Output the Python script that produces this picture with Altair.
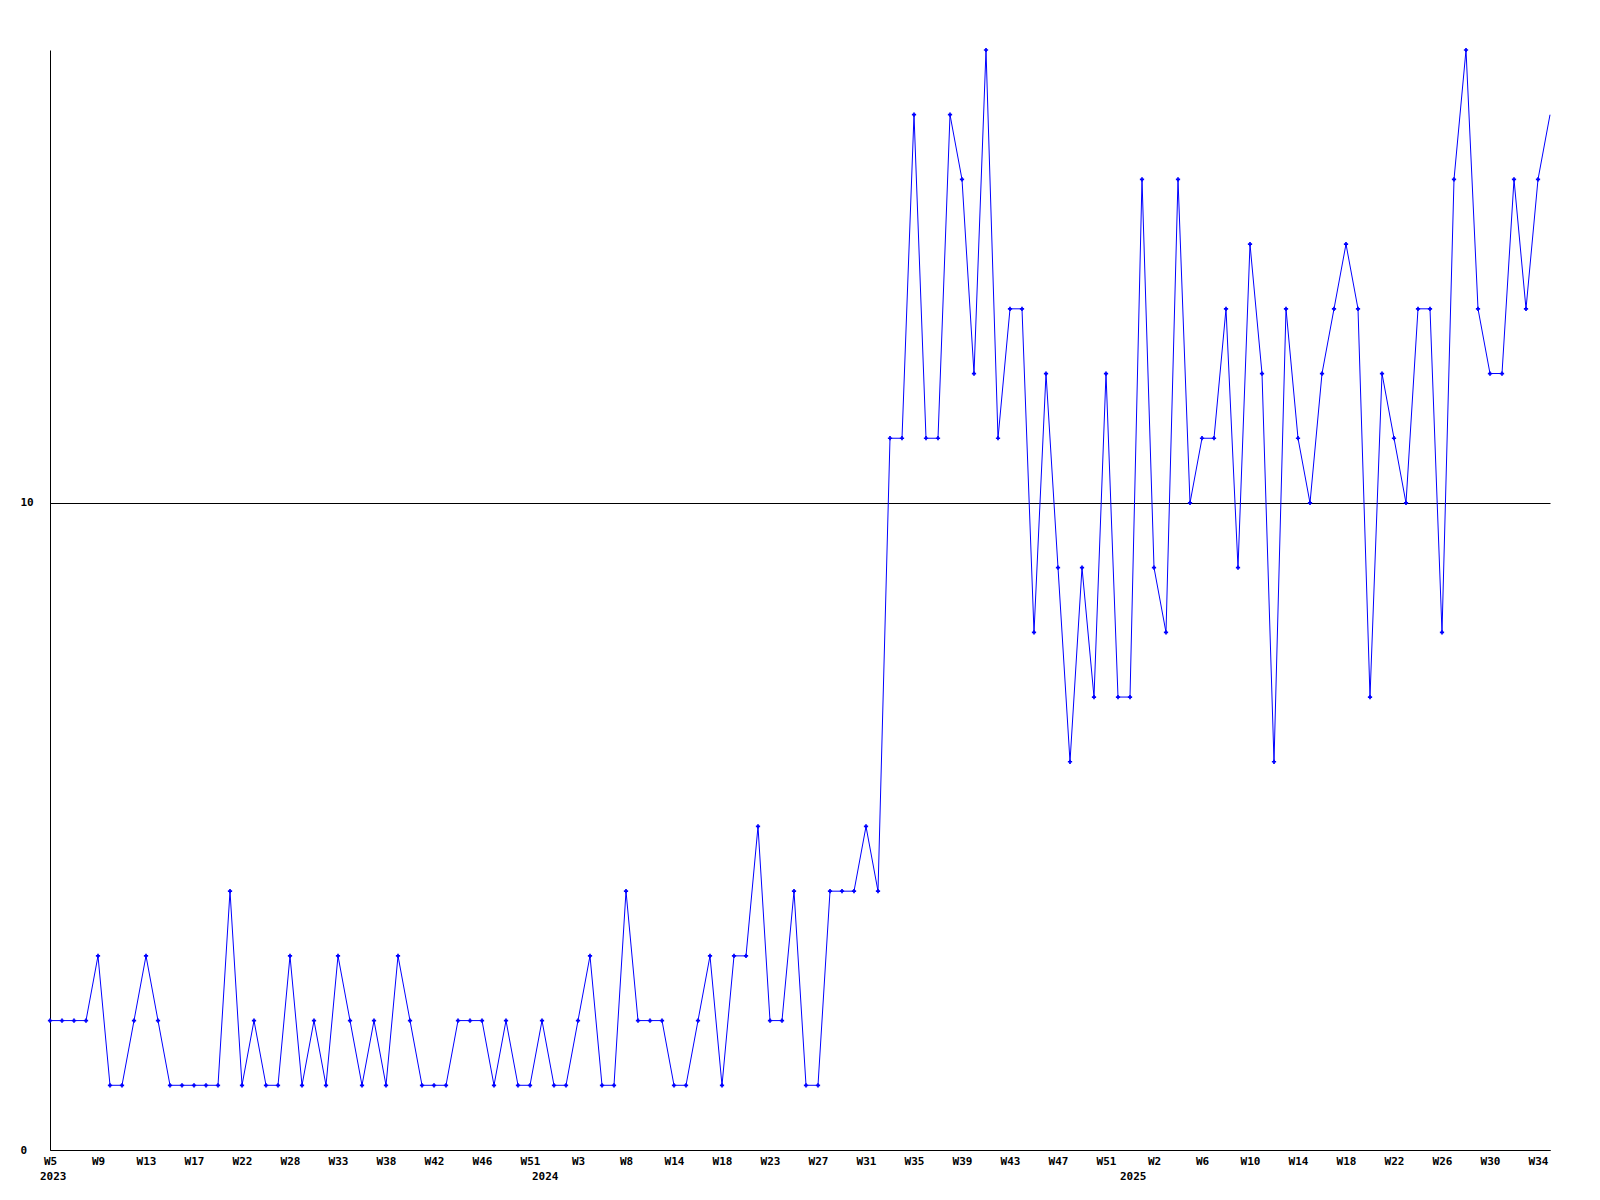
import altair as alt
import pandas as pd

# Series values (one point per period, 126 points)
values = [
    2, 2, 2, 2, 3, 1, 1, 2, 3, 2,
    1, 1, 1, 1, 1, 4, 1, 2, 1, 1,
    3, 1, 2, 1, 3, 2, 1, 2, 1, 3,
    2, 1, 1, 1, 2, 2, 2, 1, 2, 1,
    1, 2, 1, 1, 2, 3, 1, 1, 4, 2,
    2, 2, 1, 1, 2, 3, 1, 3, 3, 5,
    2, 2, 4, 1, 1, 4, 4, 4, 5, 4,
    11, 11, 16, 11, 11, 16, 15, 12, 17, 11,
    13, 13, 8, 12, 9, 6, 9, 7, 12, 7,
    7, 15, 9, 8, 15, 10, 11, 11, 13, 9,
    14, 12, 6, 13, 11, 10, 12, 13, 14, 13,
    7, 12, 11, 10, 13, 13, 8, 15, 17, 13,
    12, 12, 15, 13, 15, 16,
]

# Tick labels (every 4th point)
week_labels = [
    "W5", "W9", "W13", "W17", "W22", "W28", "W33", "W38", "W42", "W46", "W51",
    "W3", "W8", "W14", "W18", "W23", "W27", "W31", "W35", "W39", "W43", "W47", "W51",
    "W2", "W6", "W10", "W14", "W18", "W22", "W26", "W30", "W34",
]
year_labels = ["2023", "2024", "2025"]
year_start_index = [0, 41, 90]

y_ticks = [0, 10]
y_max = 17

FONT = "DejaVu Sans Mono"
BLUE = "#0000ff"

n = len(values)
df = pd.DataFrame({"i": list(range(n)), "v": values})
years = pd.DataFrame({"i": year_start_index, "t": year_labels})

tick_idx = [4 * k for k in range(len(week_labels))]
label_expr = "[" + ",".join(f"'{w}'" for w in week_labels) + "][round(datum.value/4)]"

x_enc = alt.X(
    "i:Q",
    scale=alt.Scale(domain=[0, n - 1], nice=False, zero=False),
    axis=alt.Axis(
        values=tick_idx,
        labelExpr=label_expr,
        title=None,
        grid=False,
        ticks=False,
        tickSize=0,
        domainColor="black",
        domainWidth=1,
        labelFont=FONT,
        labelFontSize=11,
        labelFontWeight="bold",
        labelColor="black",
        labelPadding=5,
        labelBaseline="top",
        labelFlush=False,
        labelOverlap=False,
    ),
)

y_enc = alt.Y(
    "v:Q",
    scale=alt.Scale(domain=[0, y_max], nice=False, zero=True),
    axis=alt.Axis(
        values=y_ticks,
        title=None,
        grid=True,
        gridColor="black",
        gridOpacity=1,
        gridWidth=1,
        ticks=False,
        tickSize=0,
        domainColor="black",
        domainWidth=1,
        labelFont=FONT,
        labelFontSize=11,
        labelFontWeight="bold",
        labelColor="black",
        labelAlign="left",
        labelPadding=30,
    ),
)

line = alt.Chart(df).mark_line(color=BLUE, strokeWidth=1).encode(x=x_enc, y=y_enc)

points = (
    alt.Chart(df)
    .transform_filter(alt.datum.i < n - 1)
    .mark_point(shape="cross", filled=True, size=18, color=BLUE, opacity=1)
    .encode(x=x_enc, y=y_enc)
)

year_text = (
    alt.Chart(years)
    .mark_text(
        align="left",
        baseline="top",
        dx=-10,
        font=FONT,
        fontSize=11,
        fontWeight="bold",
        color="black",
    )
    .encode(x=x_enc, y=alt.value(1121), text="t:N")
)

chart = (
    alt.layer(line, points, year_text)
    .properties(
        width=1500,
        height=1100,
        autosize=alt.AutoSizeParams(type="none"),
        padding={"left": 42, "top": 42, "right": 40, "bottom": 38},
        background="white",
    )
    .configure_view(stroke=None)
)

chart.save("out.html", embed_options={"renderer": "svg", "actions": False})
